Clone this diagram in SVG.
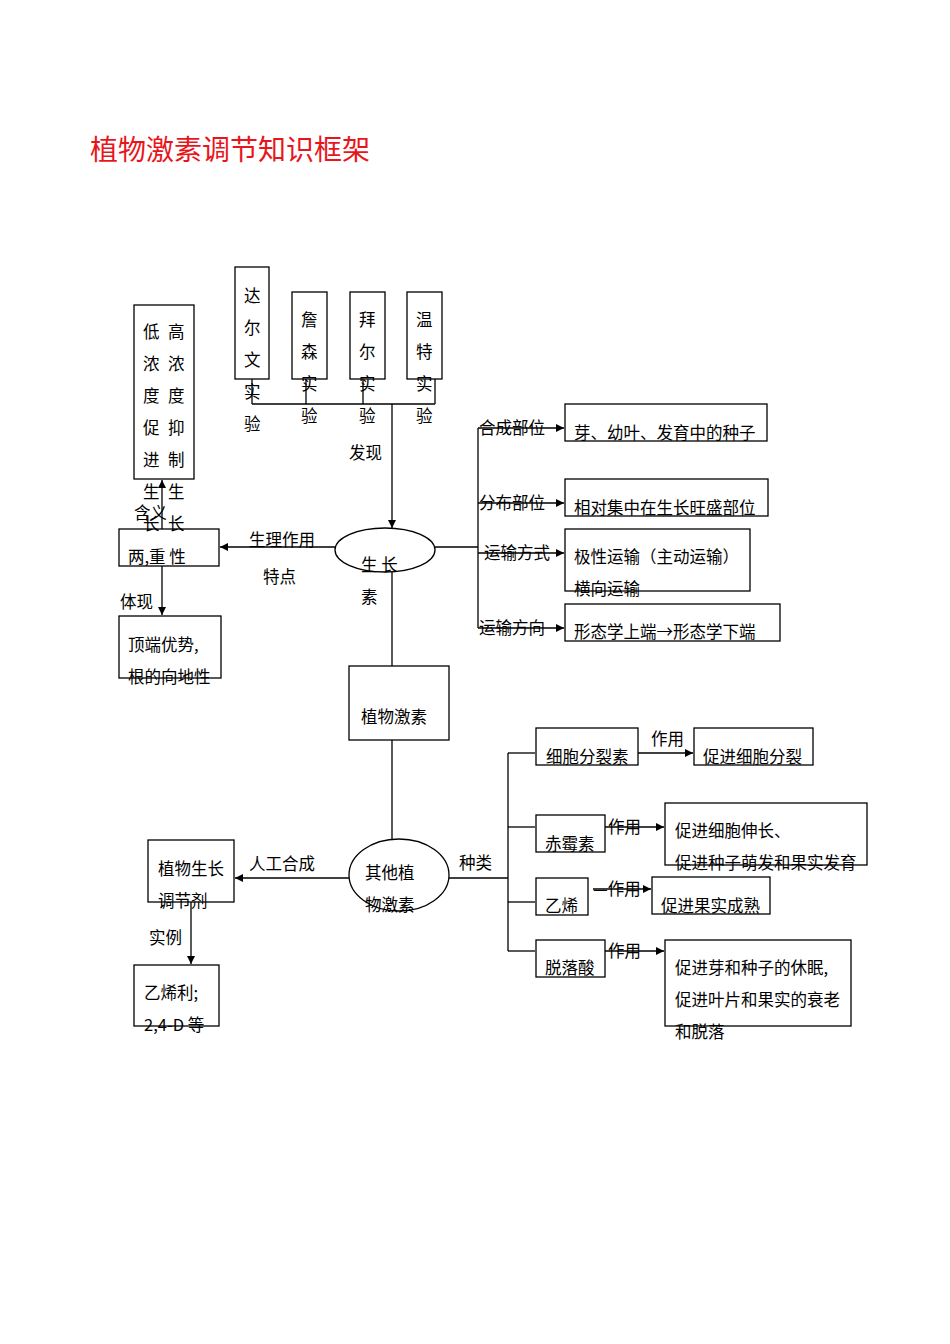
<svg xmlns="http://www.w3.org/2000/svg" width="950" height="1344" viewBox="0 0 950 1344">
<style>
text{font-family:"Noto Sans CJK SC","Liberation Sans",sans-serif;font-size:16.5px;fill:#000}
.t{font-size:28px;fill:#e8161b}
rect,ellipse{fill:none;stroke:#000;stroke-width:1.3}
line,polyline{stroke:#000;stroke-width:1.3;fill:none}
.a{marker-end:url(#ar)}
</style>
<defs><marker id="ar" viewBox="0 0 10 10" refX="10" refY="5" markerWidth="8" markerHeight="8" markerUnits="userSpaceOnUse" orient="auto"><path d="M0,0L10,5L0,10z" fill="#000"/></marker></defs>
<rect width="950" height="1344" fill="#fff" style="stroke:none"/>
<text class="t" x="90" y="160">植物激素调节知识框架</text>
<g id="connectors">
<line x1="252" y1="404" x2="435" y2="404"/>
<line x1="252" y1="379" x2="252" y2="404"/>
<line x1="306" y1="379" x2="306" y2="404"/>
<line x1="363" y1="379" x2="363" y2="404"/>
<line x1="435" y1="379" x2="435" y2="404"/>
<line class="a" x1="392" y1="404" x2="392" y2="528"/>
<line class="a" x1="335" y1="547" x2="220" y2="547"/>
<line class="a" x1="162" y1="529" x2="162" y2="480"/>
<line class="a" x1="162" y1="566" x2="162" y2="615"/>
<line x1="392" y1="572" x2="392" y2="666"/>
<line x1="392" y1="740" x2="392" y2="839"/>
<line x1="435" y1="547" x2="478" y2="547"/>
<line x1="478" y1="428" x2="478" y2="628"/>
<line class="a" x1="478" y1="428" x2="564" y2="428"/>
<line class="a" x1="478" y1="503" x2="564" y2="503"/>
<line class="a" x1="478" y1="553" x2="564" y2="553"/>
<line class="a" x1="478" y1="628" x2="564" y2="628"/>
<line x1="449" y1="878" x2="508" y2="878"/>
<line x1="508" y1="753" x2="508" y2="951"/>
<line x1="508" y1="753" x2="535" y2="753"/>
<line x1="508" y1="827" x2="535" y2="827"/>
<line x1="508" y1="902" x2="535" y2="902"/>
<line x1="508" y1="951" x2="535" y2="951"/>
<line class="a" x1="638" y1="753" x2="693" y2="753"/>
<line class="a" x1="605" y1="827" x2="664" y2="827"/>
<line class="a" x1="593" y1="889" x2="651" y2="889"/>
<line class="a" x1="605" y1="951" x2="664" y2="951"/>
<line class="a" x1="349" y1="878" x2="235" y2="878"/>
<line class="a" x1="191" y1="902" x2="191" y2="964"/>
<text x="349" y="459">发现</text>
<text x="249" y="546">生理作用</text>
<text x="263" y="583">特点</text>
<text x="120" y="608">体现</text>
<text x="134" y="519">含义</text>
<text x="479" y="434">合成部位</text>
<text x="479" y="509">分布部位</text>
<text x="484" y="559">运输方式</text>
<text x="479" y="634">运输方向</text>
<text x="459" y="869">种类</text>
<text x="651" y="745">作用</text>
<text x="608" y="833">作用</text>
<text x="593" y="895">—作用</text>
<text x="608" y="957">作用</text>
<text x="249" y="870">人工合成</text>
<text x="149" y="944">实例</text>
</g>
<g id="n-darwin"><rect x="235" y="267" width="34" height="112"/><text x="244" y="302">达</text><text x="244" y="334">尔</text><text x="244" y="366">文</text><text x="244" y="398">实</text><text x="244" y="430">验</text></g>
<g id="n-jensen"><rect x="292" y="292" width="35" height="87"/><text x="301" y="326">詹</text><text x="301" y="358">森</text><text x="301" y="390">实</text><text x="301" y="422">验</text></g>
<g id="n-paal"><rect x="350" y="292" width="35" height="87"/><text x="359" y="326">拜</text><text x="359" y="358">尔</text><text x="359" y="390">实</text><text x="359" y="422">验</text></g>
<g id="n-went"><rect x="407" y="292" width="35" height="87"/><text x="416" y="326">温</text><text x="416" y="358">特</text><text x="416" y="390">实</text><text x="416" y="422">验</text></g>
<g id="n-conc"><rect x="134" y="305" width="60" height="174"/>
<text x="143" y="338">低</text><text x="168" y="338">高</text>
<text x="143" y="370">浓</text><text x="168" y="370">浓</text>
<text x="143" y="402">度</text><text x="168" y="402">度</text>
<text x="143" y="434">促</text><text x="168" y="434">抑</text>
<text x="143" y="466">进</text><text x="168" y="466">制</text>
<text x="143" y="498">生</text><text x="168" y="498">生</text>
<text x="143" y="530">长</text><text x="168" y="530">长</text></g>
<g id="n-dual"><rect x="119" y="529" width="100" height="37"/><text x="128" y="563">两,重  性</text></g>
<g id="n-apical"><rect x="119" y="616" width="102" height="62"/><text x="128" y="651">顶端优势,</text><text x="128" y="683">根的向地性</text></g>
<g id="n-auxin"><ellipse cx="385" cy="550" rx="50" ry="22"/><text x="361" y="571">生   长</text><text x="361" y="603">素</text></g>
<g id="n-synth"><rect x="565" y="404" width="202" height="37"/><text x="574" y="439">芽、幼叶、发育中的种子</text></g>
<g id="n-dist"><rect x="565" y="479" width="203" height="37"/><text x="574" y="514">相对集中在生长旺盛部位</text></g>
<g id="n-trans"><rect x="565" y="529" width="185" height="62"/><text x="574" y="563">极性运输（主动运输）</text><text x="574" y="595">横向运输</text></g>
<g id="n-dir"><rect x="565" y="604" width="215" height="37"/><text x="574" y="638">形态学上端→形态学下端</text></g>
<g id="n-hormone"><rect x="349" y="666" width="100" height="74"/><text x="361" y="723">植物激素</text></g>
<g id="n-other"><ellipse cx="399" cy="875" rx="50" ry="36"/><text x="365" y="879">其他植</text><text x="365" y="911">物激素</text></g>
<g id="n-ck"><rect x="536" y="728" width="102" height="37"/><text x="546" y="763">细胞分裂素</text></g>
<g id="n-ck2"><rect x="694" y="728" width="119" height="37"/><text x="703" y="763">促进细胞分裂</text></g>
<g id="n-ga"><rect x="536" y="815" width="69" height="37"/><text x="545" y="850">赤霉素</text></g>
<g id="n-ga2"><rect x="665" y="803" width="202" height="62"/><text x="675" y="837">促进细胞伸长、</text><text x="675" y="869">促进种子萌发和果实发育</text></g>
<g id="n-eth"><rect x="536" y="878" width="52" height="37"/><text x="545" y="912">乙烯</text></g>
<g id="n-eth2"><rect x="652" y="877" width="118" height="37"/><text x="661" y="912">促进果实成熟</text></g>
<g id="n-aba"><rect x="536" y="940" width="69" height="37"/><text x="545" y="974">脱落酸</text></g>
<g id="n-aba2"><rect x="665" y="940" width="186" height="86"/><text x="675" y="974">促进芽和种子的休眠,</text><text x="675" y="1006">促进叶片和果实的衰老</text><text x="675" y="1038">和脱落</text></g>
<g id="n-pgr"><rect x="148" y="840" width="86" height="62"/><text x="158" y="875">植物生长</text><text x="158" y="907">调节剂</text></g>
<g id="n-ex"><rect x="134" y="965" width="85" height="61"/><text x="144" y="999">乙烯利;</text><text x="144" y="1031">2,4-D 等</text></g>
</svg>
